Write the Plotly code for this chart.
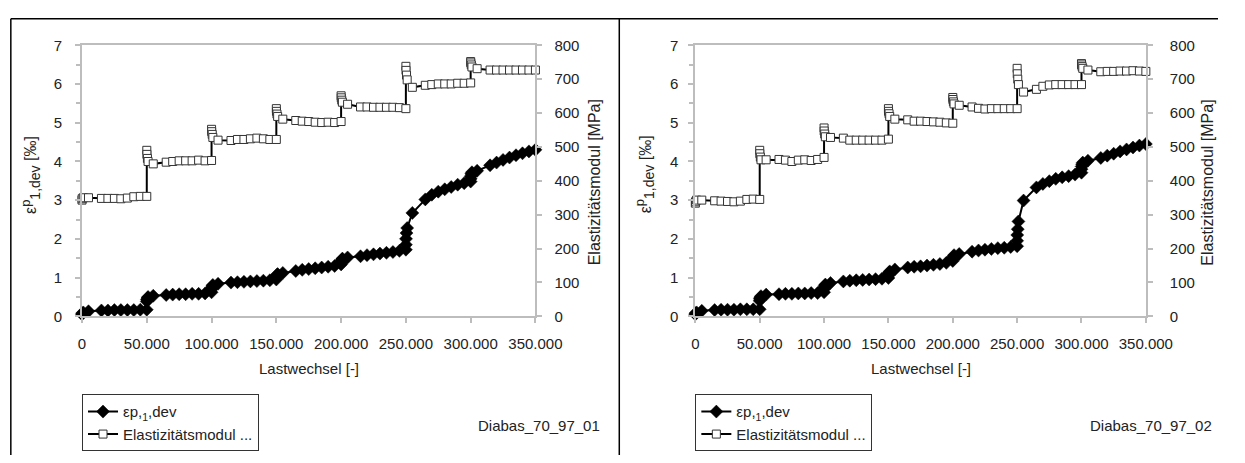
import plotly.graph_objects as go

# ---------------- data ----------------
cycles = [0, 100, 1000, 5000, 15000, 20000, 25000, 30000, 35000, 40000, 45000, 50000,
          50010, 50100, 50500, 51000, 55000, 65000, 70000, 75000, 80000, 85000, 90000, 95000, 100000,
          100010, 100100, 100500, 101000, 105000, 115000, 120000, 125000, 130000, 135000, 140000, 145000, 150000,
          150010, 150100, 150500, 151000, 155000, 165000, 170000, 175000, 180000, 185000, 190000, 195000, 200000,
          200010, 200100, 200500, 201000, 205000, 215000, 220000, 225000, 230000, 235000, 240000, 245000, 250000,
          250010, 250100, 250500, 251000, 255000, 265000, 270000, 275000, 280000, 285000, 290000, 295000, 300000,
          300010, 300100, 300500, 301000, 305000, 315000, 320000, 325000, 330000, 335000, 340000, 345000, 350000]

# Diabas_70_97_01
eps_01 = [0.05, 0.08, 0.10, 0.13, 0.15, 0.15, 0.16, 0.16, 0.16, 0.16, 0.17, 0.17,
          0.38, 0.43, 0.47, 0.50, 0.53, 0.55, 0.56, 0.57, 0.57, 0.58, 0.58, 0.59, 0.62,
          0.70, 0.74, 0.78, 0.81, 0.84, 0.87, 0.88, 0.89, 0.90, 0.91, 0.92, 0.93, 0.95,
          1.00, 1.04, 1.07, 1.09, 1.12, 1.17, 1.20, 1.22, 1.24, 1.26, 1.28, 1.30, 1.34,
          1.38, 1.42, 1.46, 1.49, 1.52, 1.55, 1.58, 1.60, 1.62, 1.64, 1.66, 1.69, 1.72,
          1.85, 2.00, 2.15, 2.28, 2.67, 3.02, 3.14, 3.22, 3.28, 3.34, 3.40, 3.44, 3.48,
          3.55, 3.62, 3.68, 3.72, 3.76, 3.90, 3.97, 4.04, 4.10, 4.16, 4.21, 4.26, 4.30]
emod_01 = [343, 347, 350, 350, 348, 348, 348, 347, 349, 353, 354, 354,
           490, 478, 466, 457, 450, 455, 457, 459, 459, 459, 461, 459, 460,
           552, 545, 537, 528, 520, 519, 522, 522, 524, 526, 524, 522, 522,
           613, 605, 597, 590, 582, 578, 576, 575, 573, 572, 573, 572, 575,
           651, 645, 638, 632, 626, 618, 618, 617, 617, 617, 617, 616, 613,
           738, 726, 712, 698, 676, 682, 684, 686, 686, 686, 688, 688, 689,
           752, 748, 742, 736, 731, 727, 727, 727, 727, 727, 727, 727, 727]

# Diabas_70_97_02
eps_02 = [0.05, 0.08, 0.10, 0.14, 0.16, 0.17, 0.17, 0.17, 0.18, 0.18, 0.18, 0.18,
          0.40, 0.45, 0.49, 0.52, 0.56, 0.57, 0.58, 0.58, 0.59, 0.59, 0.60, 0.60, 0.62,
          0.70, 0.75, 0.79, 0.82, 0.86, 0.90, 0.92, 0.93, 0.94, 0.95, 0.96, 0.97, 0.99,
          1.05, 1.09, 1.13, 1.16, 1.21, 1.26, 1.28, 1.29, 1.31, 1.33, 1.35, 1.38, 1.43,
          1.47, 1.51, 1.55, 1.58, 1.61, 1.67, 1.70, 1.72, 1.74, 1.76, 1.77, 1.79, 1.81,
          1.95, 2.10, 2.25, 2.45, 2.99, 3.33, 3.42, 3.49, 3.55, 3.59, 3.62, 3.66, 3.71,
          3.80, 3.87, 3.93, 3.97, 4.02, 4.09, 4.15, 4.20, 4.26, 4.31, 4.36, 4.41, 4.45]
emod_02 = [334, 338, 343, 343, 341, 340, 339, 338, 340, 345, 346, 345,
           490, 480, 470, 462, 462, 463, 461, 457, 461, 462, 460, 463, 469,
           556, 547, 538, 530, 528, 526, 520, 520, 520, 520, 520, 520, 523,
           613, 605, 598, 590, 582, 580, 576, 576, 575, 574, 573, 571, 570,
           646, 640, 633, 627, 623, 618, 614, 612, 613, 613, 613, 613, 613,
           732, 716, 700, 684, 662, 670, 679, 683, 684, 684, 684, 684, 684,
           746, 742, 737, 732, 727, 722, 723, 723, 724, 724, 725, 724, 723]

series_names = ["εp,<sub>1</sub>,dev", "Elastizitätsmodul ..."]
sample_names = ["Diabas_70_97_01", "Diabas_70_97_02"]
x_title = "Lastwechsel [-]"
y_left_title = ("ε<sup><span style='font-size:13px'>p</span></sup>"
                "<sub><span style='font-size:14px'>1,dev</span></sub> [‰]")
y_right_title = "Elastizitätsmodul [MPa]"

# ---------------- layout helpers ----------------
W, H = 1245, 463
FONT = "Liberation Sans, Arial, sans-serif"
TXT = "#222222"
AX = "#bdbdbd"


def px(x):
    return x / W


def py(y):
    return 1 - y / H


fig = go.Figure()

panels = [
    dict(eps=eps_01, emod=emod_01, x0=80, x1=545, xa="x", ya="y", ya2="y2", lg="legend",
         ylt=27, yrt=605, name=sample_names[0], namex=484, lgx=80),
    dict(eps=eps_02, emod=emod_02, x0=709, x1=1171, xa="x2", ya="y3", ya2="y4", lg="legend2",
         ylt=657, yrt=1234, name=sample_names[1], namex=1112, lgx=709),
]

y_top, y_bot = 37.7, 319

for i, p in enumerate(panels):
    fig.add_trace(go.Scatter(
        x=cycles, y=p["eps"], mode="lines+markers", name=series_names[0],
        xaxis=p["xa"], yaxis=p["ya"], legend=p["lg"], cliponaxis=False,
        line=dict(color="black", width=2),
        marker=dict(symbol="diamond", size=10, color="black", line=dict(color="black", width=0.5)),
    ))
    fig.add_trace(go.Scatter(
        x=cycles, y=p["emod"], mode="lines+markers", name=series_names[1],
        xaxis=p["xa"], yaxis=p["ya2"], legend=p["lg"], cliponaxis=False,
        line=dict(color="black", width=2),
        marker=dict(symbol="square", size=8, color="white", line=dict(color="#333333", width=1)),
    ))

common_axis = dict(showgrid=False, zeroline=False, showline=True, linecolor=AX, linewidth=2,
                   ticks="outside", tickcolor=AX, tickwidth=2, ticklen=5,
                   tickfont=dict(family=FONT, size=15, color=TXT))

layout = dict(
    width=W, height=H, margin=dict(l=0, r=0, t=0, b=0),
    paper_bgcolor="white", plot_bgcolor="white",
    separators=",.",
    showlegend=True,
    font=dict(family=FONT, size=15, color=TXT),
)

for i, p in enumerate(panels):
    xk = "xaxis" if i == 0 else "xaxis2"
    yk = "yaxis" if i == 0 else "yaxis3"
    y2k = "yaxis2" if i == 0 else "yaxis4"
    layout[xk] = dict(common_axis, domain=[px(p["x0"]), px(p["x1"])], range=[0, 350000],
                      tickmode="linear", tick0=0, dtick=50000, tickformat=",d",
                      mirror=True, anchor=p["ya"], ticklabelstandoff=8)
    layout[yk] = dict(common_axis, domain=[py(y_bot), py(y_top)], range=[0, 7],
                      tickmode="linear", tick0=0, dtick=1, anchor=p["xa"], mirror=False,
                      minor=dict(dtick=0.5, ticks="outside", ticklen=4, tickcolor=AX, tickwidth=1.5),
                      ticklabelstandoff=10 if i == 0 else 7)
    layout[y2k] = dict(common_axis, domain=[py(y_bot), py(y_top)], range=[0, 800],
                       tickmode="linear", tick0=0, dtick=100, anchor=p["xa"],
                       overlaying=p["ya"], side="right",
                       ticklabelstandoff=9 if i == 0 else 14)
    layout[p["lg"]] = dict(x=px(p["lgx"]), y=py(400), xanchor="left", yanchor="top",
                           bgcolor="white", bordercolor="#333333", borderwidth=1,
                           font=dict(family=FONT, size=15, color=TXT),
                           tracegroupgap=0, itemwidth=30)

annotations = []
shapes = []
for p in panels:
    xc = (p["x0"] + p["x1"]) / 2
    annotations.append(dict(text=x_title, x=px(xc), y=py(373), xref="paper", yref="paper",
                            showarrow=False, xanchor="center", yanchor="middle",
                            font=dict(family=FONT, size=15, color=TXT)))
    annotations.append(dict(text=y_left_title, x=px(p["ylt"]), y=py(172), xref="paper", yref="paper",
                            showarrow=False, textangle=-90, xanchor="center", yanchor="middle",
                            font=dict(family=FONT, size=16, color=TXT)))
    annotations.append(dict(text=y_right_title, x=px(p["yrt"]), y=py(180), xref="paper", yref="paper",
                            showarrow=False, textangle=-90, xanchor="center", yanchor="middle",
                            font=dict(family=FONT, size=16, color=TXT)))
    annotations.append(dict(text=p["name"], x=px(p["namex"]), y=py(432), xref="paper", yref="paper",
                            showarrow=False, xanchor="left", yanchor="middle",
                            font=dict(family=FONT, size=15, color=TXT)))

# outer frames of the two chart boxes
for (xa, ya, xb, yb) in [(7, 10, 1245, 10), (7, 10, 7, 463), (631, 10, 631, 463)]:
    shapes.append(dict(type="line", xref="paper", yref="paper",
                       x0=px(xa), y0=py(ya), x1=px(xb), y1=py(yb),
                       line=dict(color="black", width=1.5)))

layout["annotations"] = annotations
layout["shapes"] = shapes
fig.update_layout(**layout)

fig.write_html("out.html",
               post_script="document.body.style.margin='0';document.body.style.padding='0';"
                           "document.documentElement.style.overflow='hidden';")
